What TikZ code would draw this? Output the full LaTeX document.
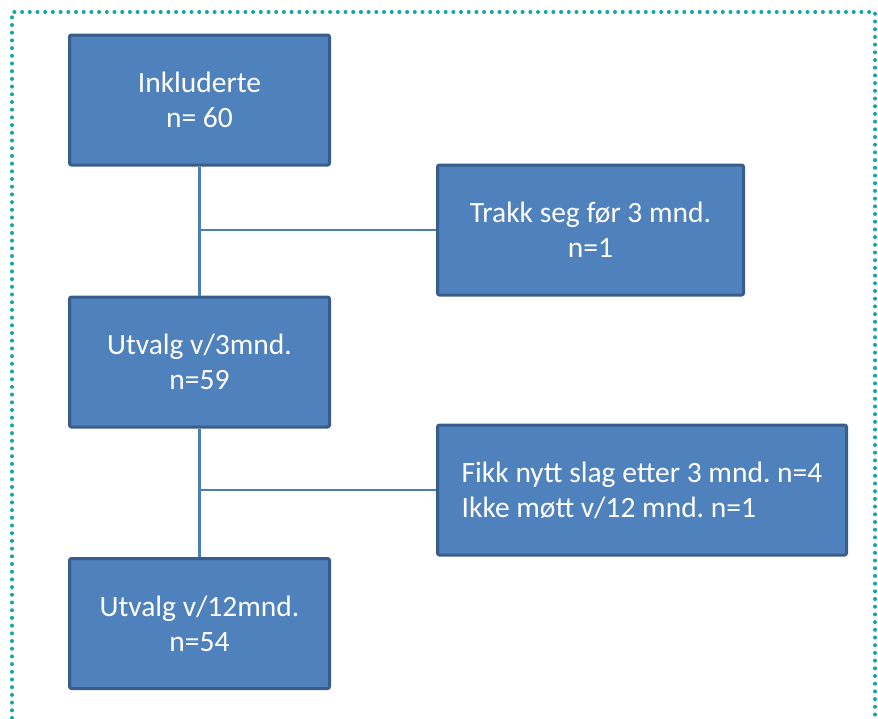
\documentclass[tikz,border=0pt]{standalone}
\usepackage{fontspec}
\setmainfont{Carlito}
\frenchspacing
\definecolor{boxfill}{RGB}{79,129,189}
\definecolor{boxline}{RGB}{56,93,138}
\definecolor{linkblue}{RGB}{74,126,187}
\definecolor{frameteal}{RGB}{18,166,166}

\begin{document}
\begin{tikzpicture}[x=1pt, y=-1pt]
      \tikzset{
	  flowbox/.style={rectangle, rounded corners=2pt, draw=boxline, fill=boxfill, line width=3pt, text=white, font=\fontsize{29.5}{35}\selectfont, align=center, minimum width=260pt, minimum height=130pt},
	  sidebox/.style={flowbox, align=left},
	  link/.style={draw=linkblue, line width=2.5pt},
	  frame/.style={draw=frameteal, line width=4pt, line cap=round, dash pattern=on 0pt off 7.7pt}
      }

      \useasboundingbox (0,0) rectangle (878,718);
      \draw[frame] (12,718) -- (12,12) -- (875,12) -- (875,718);

      % main column
      \node[flowbox] (incl) at (199.5,100) {Inkluderte\\n= 60};
      \node[flowbox] (utv3) at (199.5,362) {Utvalg v/3mnd.\\n=59};
      \node[flowbox] (utv12) at (199.5,623.5) {Utvalg v/12mnd.\\n=54};

      % drop-outs
      \node[flowbox, minimum width=306pt] (trakk) at (590.5,230) {Trakk seg før 3 mnd.\\n=1};
      \node[sidebox, minimum width=409pt] (fikk) at (642,490) {Fikk nytt slag etter 3 mnd. n=4\\Ikke møtt v/12 mnd. n=1};

      \coordinate (j1) at (incl.south |- trakk.west);
      \coordinate (j2) at (utv3.south |- fikk.west);

      \draw[link] (incl.south) -- (utv3.north);
      \draw[link] (j1) -- (trakk.west);
      \draw[link] (utv3.south) -- (utv12.north);
      \draw[link] (j2) -- (fikk.west);
\end{tikzpicture}
\end{document}
